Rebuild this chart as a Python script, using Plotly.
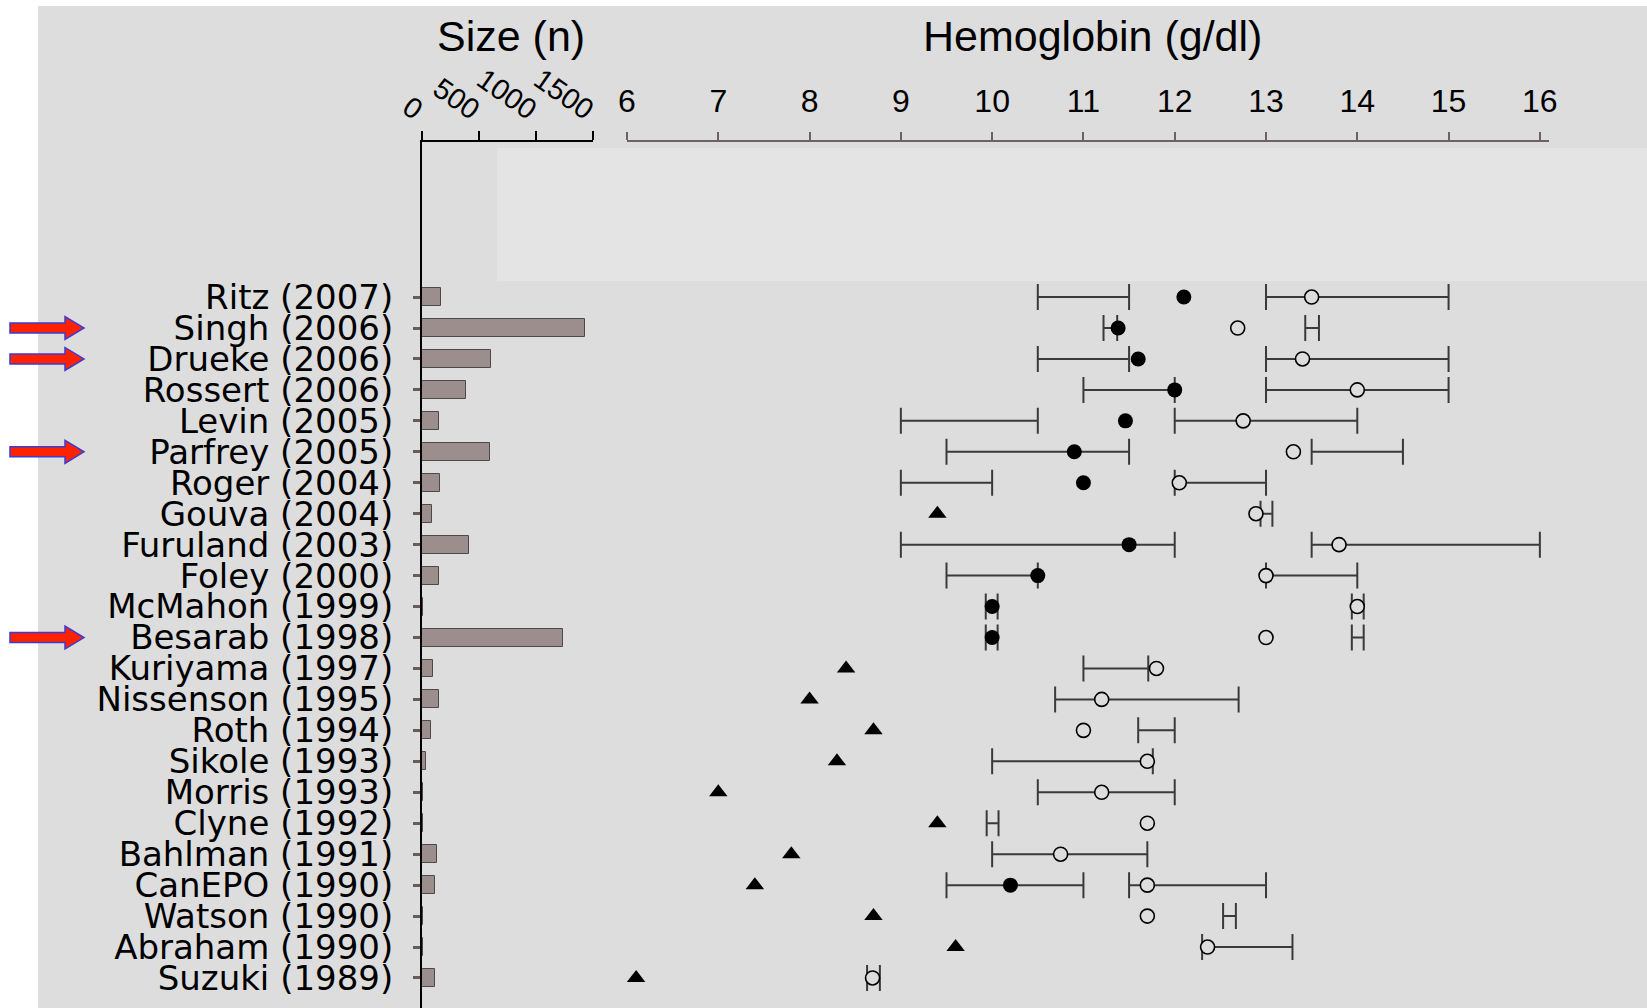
import plotly.graph_objects as go

# ---------------- data ----------------
studies = ["Ritz (2007)", "Singh (2006)", "Drueke (2006)", "Rossert (2006)", "Levin (2005)",
           "Parfrey (2005)", "Roger (2004)", "Gouva (2004)", "Furuland (2003)", "Foley (2000)",
           "McMahon (1999)", "Besarab (1998)", "Kuriyama (1997)", "Nissenson (1995)", "Roth (1994)",
           "Sikole (1993)", "Morris (1993)", "Clyne (1992)", "Bahlman (1991)", "CanEPO (1990)",
           "Watson (1990)", "Abraham (1990)", "Suzuki (1989)"]
sizes = [165, 1432, 603, 390, 150, 596, 155, 88, 416, 146, 12, 1233, 100, 152, 83, 38,
         12, 10, 130, 118, 10, 10, 115]

hb_baseline = [None, None, None, None, None, None, None, 9.4, None, None, None, None,
               8.4, 8.0, 8.7, 8.3, 7.0, 9.4, 7.8, 7.4, 8.7, 9.6, 6.1]
hb_low = [12.1, 11.38, 11.6, 12.0, 11.46, 10.9, 11.0, None, 11.5, 10.5, 10.0, 10.0,
          None, None, None, None, None, None, None, 10.2, None, None, None]
hb_high = [13.5, 12.69, 13.4, 14.0, 12.75, 13.3, 12.05, 12.89, 13.8, 13.0, 14.0, 13.0,
           11.8, 11.2, 11.0, 11.7, 11.2, 11.7, 10.75, 11.7, 11.7, 12.36, 8.69]

low_target_lo = [10.5, 11.22, 10.5, 11.0, 9.0, 9.5, 9.0, None, 9.0, 9.5, 9.93, 9.93,
                 None, None, None, None, None, None, None, 9.5, None, None, None]
low_target_hi = [11.5, 11.37, 11.5, 12.0, 10.5, 11.5, 10.0, None, 12.0, 10.5, 10.06, 10.06,
                 None, None, None, None, None, None, None, 11.0, None, None, None]
high_target_lo = [13.0, 13.43, 13.0, 13.0, 12.0, 13.5, 12.0, 12.94, 13.5, 13.0, 13.94, 13.94,
                  11.0, 10.69, 11.6, 10.0, 10.5, 9.94, 10.0, 11.5, 12.53, 12.3, 8.63]
high_target_hi = [15.0, 13.58, 15.0, 15.0, 14.0, 14.5, 13.0, 13.07, 16.0, 14.0, 14.07, 14.07,
                  11.71, 12.7, 12.0, 11.76, 12.0, 10.07, 11.7, 13.0, 12.67, 13.29, 8.77]

highlighted = ["Singh (2006)", "Drueke (2006)", "Parfrey (2005)", "Besarab (1998)"]

size_ticks = [0, 500, 1000, 1500]
hb_ticks = list(range(6, 17))

# ---------------- layout constants ----------------
W, H = 1647, 1008
BG = "#dddddd"
rows = list(range(len(studies)))


def px_x(p):
    return p / W


def px_y(p):
    return 1 - p / H


fig = go.Figure()

# size bars
fig.add_trace(go.Bar(
    x=sizes, y=rows, orientation="h", width=0.58,
    marker=dict(color="#9c8e8c", line=dict(color="#4a4a4a", width=1)),
    xaxis="x", yaxis="y", hoverinfo="skip", showlegend=False))


def range_trace(lo, hi):
    ys, mids, halves = [], [], []
    for r, a, b in zip(rows, lo, hi):
        if a is None or b is None:
            continue
        ys.append(r)
        mids.append((a + b) / 2)
        halves.append((b - a) / 2)
    return go.Scatter(
        x=mids, y=ys, mode="markers", xaxis="x2", yaxis="y",
        marker=dict(size=1, color="rgba(0,0,0,0)"),
        error_x=dict(type="data", array=halves, symmetric=True, width=13,
                     thickness=2, color="#3a3a3a"),
        hoverinfo="skip", showlegend=False)


fig.add_trace(range_trace(low_target_lo, low_target_hi))
fig.add_trace(range_trace(high_target_lo, high_target_hi))


def point_trace(vals, symbol, fill, size, line_w):
    xs, ys = [], []
    for r, v in zip(rows, vals):
        if v is None:
            continue
        xs.append(v)
        ys.append(r)
    return go.Scatter(
        x=xs, y=ys, mode="markers", xaxis="x2", yaxis="y",
        marker=dict(symbol=symbol, size=size, color=fill,
                    line=dict(color="#000000", width=line_w)),
        hoverinfo="skip", showlegend=False)


fig.add_trace(point_trace(hb_baseline, "triangle-up", "#000000", 16, 0))
fig.add_trace(point_trace(hb_low, "circle", "#000000", 15, 0))
fig.add_trace(point_trace(hb_high, "circle", BG, 14, 1.6))

# ---------------- shapes ----------------
shapes = [
    dict(type="rect", xref="paper", yref="paper", x0=px_x(38), x1=1, y0=0, y1=px_y(6),
         fillcolor=BG, line=dict(width=0), layer="below"),
    dict(type="rect", xref="paper", yref="paper", x0=px_x(497), x1=1, y0=px_y(281), y1=px_y(148),
         fillcolor="#e4e4e4", line=dict(width=0), layer="below"),
]

row_px = 30.95
for name in highlighted:
    r = studies.index(name)
    sh = 5 / row_px
    hh = 11.5 / row_px
    x_t, x_s, x_p = px_x(10), px_x(65), px_x(84)
    path = (f"M {x_t},{r - sh} L {x_s},{r - sh} L {x_s},{r - hh} L {x_p},{r} "
            f"L {x_s},{r + hh} L {x_s},{r + sh} L {x_t},{r + sh} Z")
    shapes.append(dict(type="path", xref="paper", yref="y", path=path,
                       fillcolor="#ff2200", line=dict(color="#3b3bd6", width=1.5), layer="above"))

annotations = [
    dict(text="Size (n)", xref="paper", yref="paper", x=px_x(511), y=px_y(36),
         showarrow=False, xanchor="center", yanchor="middle",
         font=dict(family="Liberation Sans, Arial", size=43, color="#000000")),
    dict(text="Hemoglobin (g/dl)", xref="paper", yref="paper", x=px_x(1092), y=px_y(36),
         showarrow=False, xanchor="center", yanchor="middle",
         font=dict(family="Liberation Sans, Arial", size=43, color="#000000")),
]

y_top = px_y(142)

fig.update_layout(
    width=W, height=H, autosize=False,
    margin=dict(l=0, r=0, t=0, b=0, pad=0, autoexpand=False),
    paper_bgcolor="#ffffff",
    plot_bgcolor="rgba(0,0,0,0)",
    showlegend=False,
    shapes=shapes,
    annotations=annotations,
    bargap=0,
    xaxis=dict(
        domain=[px_x(422), px_x(593)], range=[0, 1500], side="top", anchor="y",
        tickvals=size_ticks, ticktext=[str(t) for t in size_ticks],
        tickangle=35, ticks="outside", ticklen=9, tickwidth=2, tickcolor="#000000",
        showline=True, linecolor="#000000", linewidth=2, showgrid=False, zeroline=False,
        tickfont=dict(family="Liberation Sans, Arial", size=29, color="#000000"),
        ticklabelstandoff=-4,
        automargin=False, fixedrange=True),
    xaxis2=dict(
        domain=[px_x(627), px_x(1549)], range=[6, 16.1], side="top", anchor="y",
        tickvals=hb_ticks, ticktext=[str(t) for t in hb_ticks],
        ticks="outside", ticklen=8, tickwidth=2, tickcolor="#6e6260",
        showline=True, linecolor="#6e6260", linewidth=2, showgrid=False, zeroline=False,
        tickfont=dict(family="Liberation Sans, Arial", size=32, color="#000000"),
        ticklabelstandoff=7,
        automargin=False, fixedrange=True),
    yaxis=dict(
        domain=[0, y_top], range=[22.97, -5.01],
        tickvals=rows, ticktext=studies,
        ticks="outside", ticklen=7, tickwidth=3, tickcolor="#6b5b58",
        showline=True, linecolor="#000000", linewidth=2, showgrid=False, zeroline=False,
        tickfont=dict(family="DejaVu Sans", size=34, color="#000000"),
        ticklabelstandoff=13,
        automargin=False, fixedrange=True),
)

fig.write_html(
    "out.html",
    config={"responsive": False, "displayModeBar": False},
    post_script="document.body.style.margin='0';document.body.style.overflow='hidden';",
)
